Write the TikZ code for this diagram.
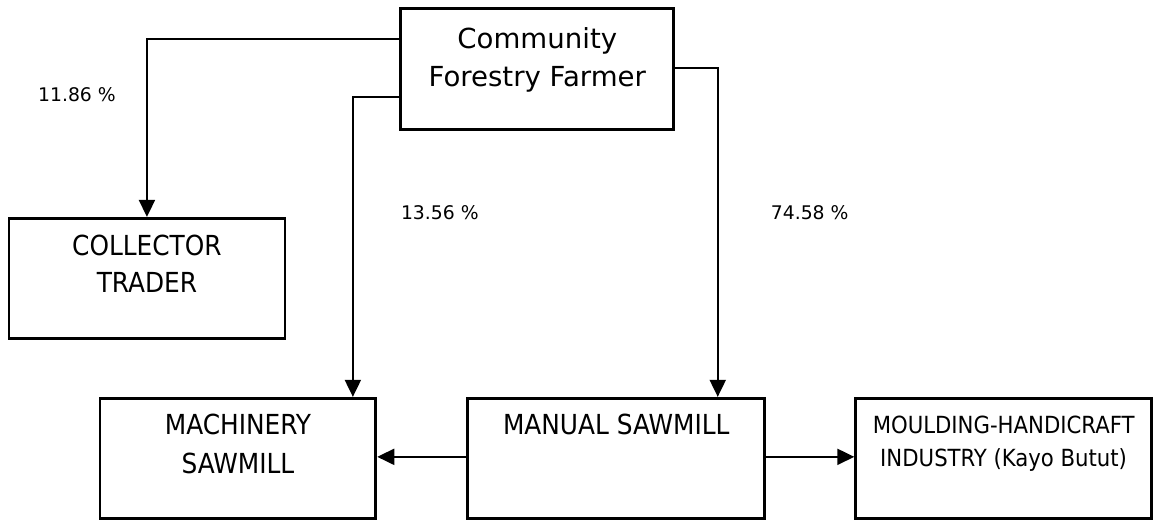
\documentclass[tikz,border=0pt]{standalone}
\usepackage{fontspec}
\setmainfont{DejaVu Sans}
\newfontfamily\condfont{DejaVu Sans Condensed}
\usetikzlibrary{arrows.meta,calc}
\tikzset{>={Triangle[length=8.5pt,width=8pt]}}
\tikzset{
  box/.style={draw,line width=1.4pt,inner sep=0pt,anchor=north,align=center},
  flow/.style={->,line width=1pt},
  share/.style={anchor=base,font=\fontsize{9.4}{11}\selectfont}
}

\begin{document}
\begin{tikzpicture}[x=0.5pt,y=-0.5pt]
\fill[white] (0,0) rectangle (1153,518);
% boxes
\node[box,minimum width=136.5pt,text height=39pt,text depth=21.5pt,font=\fontsize{13.8}{19}\selectfont] (farmer) at (537.5,7) {Community\\Forestry Farmer};
\node[box,minimum width=138pt,text height=37pt,text depth=23pt,font=\condfont\fontsize{13.8}{18.5}\selectfont] (collector) at (147,217) {COLLECTOR\\TRADER};
\node[box,minimum width=138pt,text height=37.5pt,text depth=22.5pt,font=\condfont\fontsize{13.8}{19.5}\selectfont] (machinery) at (238,397) {MACHINERY\\SAWMILL};
\node[box,minimum width=148.5pt,text height=18pt,text depth=42pt,font=\condfont\fontsize{13.8}{19.5}\selectfont] (manual) at (616.5,397) {MANUAL SAWMILL};
\node[box,minimum width=148pt,text height=34pt,text depth=26pt,font=\condfont\fontsize{11.8}{16.5}\selectfont] (moulding) at (1004,397) {MOULDING-HANDICRAFT\\INDUSTRY (Kayo Butut)};
% shares
\node[share] (s1) at (77,102) {11.86 \%};
\node[share] (s2) at (440,220) {13.56 \%};
\node[share] (s3) at (810,220) {74.58 \%};
% flows
\draw[flow] (farmer.west |- 0,39) -| (collector.north);
\draw[flow] (farmer.west |- 0,97) -| ($(machinery.north)+(115,0)$);
\draw[flow] (farmer.east |- 0,68) -| ($(manual.north)+(101.5,0)$);
\draw[flow] (manual.west |- 0,457) -- (machinery.east |- 0,457);
\draw[flow] (manual.east |- 0,457) -- (moulding.west |- 0,457);
\end{tikzpicture}
\end{document}
